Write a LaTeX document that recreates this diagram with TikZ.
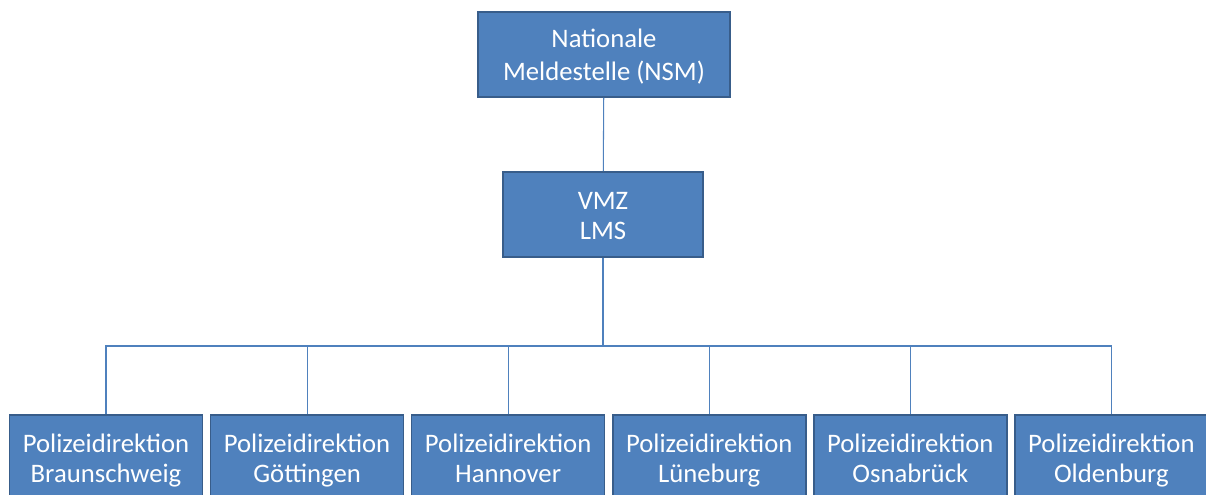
\documentclass[tikz,border=0pt]{standalone}
\usepackage{fontspec}
\setmainfont{Carlito}
\usetikzlibrary{positioning}
\definecolor{boxblue}{HTML}{4F81BD}
\definecolor{boxedge}{HTML}{385D8A}
\newcommand{\twolines}[2]{\rule{0pt}{16pt}#1\\#2\rule[-5pt]{0pt}{5pt}}

\begin{document}
\begin{tikzpicture}[node distance=0.13cm, line width=0.6pt]
	\tikzstyle{unit} = [draw=boxedge, fill=boxblue, line width=0.9pt, text=white, align=center, minimum width=3.86cm, minimum height=1.7cm, inner sep=0pt, font=\fontsize{15.2}{17}\selectfont];
	\tikzstyle{link} = [draw=boxblue, line width=0.6pt];
	
	\clip (0,0) rectangle (24.12,9.9);
	
	\node[unit, minimum width=5.04cm, font=\fontsize{15.2}{18.8}\selectfont] (nsm) at (12.08,8.81) {\twolines{Nationale}{Meldestelle (NSM)}};
	\node[unit, minimum width=4cm] (vmz) at (12.06,5.61) {\twolines{VMZ}{LMS}};
	
	\node[unit] (pd1) at (2.12,0.75) {\twolines{Polizeidirektion}{Braunschweig}};
	\node[unit, right = of pd1] (pd2) {\twolines{Polizeidirektion}{Göttingen}};
	\node[unit, right = of pd2] (pd3) {\twolines{Polizeidirektion}{Hannover}};
	\node[unit, right = of pd3] (pd4) {\twolines{Polizeidirektion}{Lüneburg}};
	\node[unit, right = of pd4] (pd5) {\twolines{Polizeidirektion}{Osnabrück}};
	\node[unit, right = of pd5] (pd6) {\twolines{Polizeidirektion}{Oldenburg}};
	
	\coordinate (bus) at (12.06,2.98);
	
	\draw[link] (nsm) -- (vmz);
	\draw[link] (vmz) -- (bus);
	\foreach \s in {1,...,6}
	{
		\draw[link] (bus) -| (pd\s.north);
	}
	
\end{tikzpicture}
\end{document}
